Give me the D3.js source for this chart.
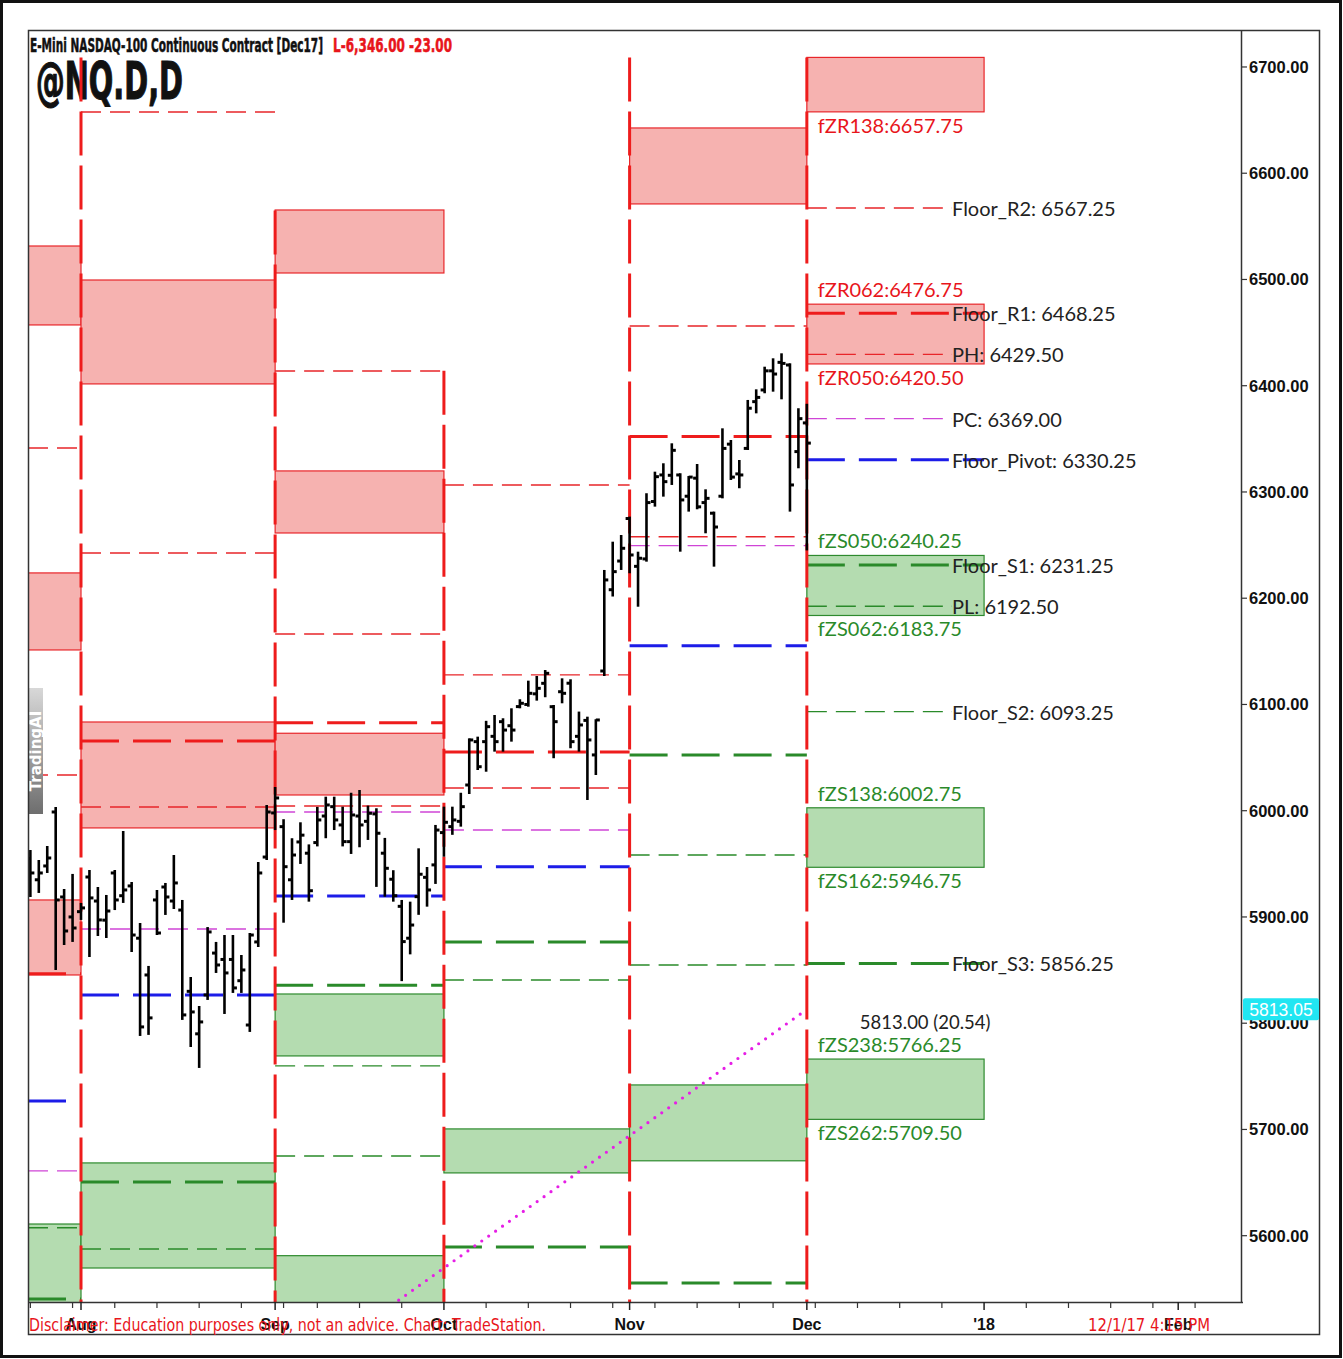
<!DOCTYPE html>
<html><head><meta charset="utf-8">
<script src="https://cdn.jsdelivr.net/npm/d3@7"></script>
<style>html,body{margin:0;padding:0;background:#fff;} svg{display:block;}</style>
</head><body><svg id="c" width="1343" height="1359"></svg>
<script>
// ---------- DATA ----------
// daily OHLC bars: [tradingDayIndex (0 = Aug 1 2017), open, high, low, close]
const bars = [
[-6,5955,5963.0,5918.8,5941.4],[-5,5935,5953.6,5922.6,5941.4],[-4,5948,5966.8,5941.4,5955.5],
[-3,5998.8,6003.5,5850.1,5916.0],[-2,5918.8,5926.3,5873.6,5886.8],[-1,5900,5940.5,5876.5,5889.6],
[0,5905,5913.2,5897.2,5908.5],[1,5937.6,5944.2,5862.3,5917.9],[2,5915,5928.2,5882.1,5897.2],
[3,5897,5920.7,5880.2,5905.6],[4,5941.4,5944.2,5906.5,5916.0],[5,5920,5980.9,5913.2,5925.4],
[6,5929.2,5932.9,5867.0,5883.0],[7,5880,5894.3,5788.0,5796.5],[8,5845.4,5853.9,5789.0,5805.0],
[9,5916,5925.4,5883.0,5884.9],[10,5928.2,5932.0,5901.9,5918.8],[11,5915,5958.3,5907.5,5932.0],
[12,5906.5,5916.0,5803.1,5807.8],[13,5830,5843.5,5777.6,5810.6],[14,5790,5816.2,5757.9,5801.2],
[15,5826.6,5890.5,5821.9,5885.9],[16,5866,5876.5,5847.3,5854.8],[17,5860,5883.0,5808.7,5847.3],
[18,5860,5883.0,5828.5,5833.2],[19,5840,5864.2,5828.5,5850.1],[20,5798.3,5884.9,5791.8,5883.0],
[21,5876.5,5951.7,5871.7,5941.4],[22,5956.4,6005.4,5953.6,5998.8],[23,5997.9,6022.3,5981.8,6012.0],
[24,5985,5992.0,5894.6,5947.3],[25,5935,5974.1,5916.0,5958.3],[26,5970.6,5989.1,5949.9,5977.0],
[27,5960,5968.3,5914.4,5924.7],[28,5970,6003.6,5966.4,5991.3],[29,5995,6013.2,5974.1,6005.4],
[30,6003.8,6013.2,5981.8,5991.3],[31,5986.6,6003.8,5966.4,5970.9],[32,5970.9,6016.9,5959.3,5996.0],
[33,5995,6019.5,5965.6,5986.6],[34,5990,6004.8,5972.5,5997.6],[35,5997,6002.3,5928.3,5978.8],
[36,5960,5974.4,5919.1,5945.8],[37,5935.5,5944.0,5914.4,5920.0],[38,5910,5916.0,5839.6,5876.8],
[39,5880,5914.4,5864.8,5892.4],[40,5919.1,5964.6,5902.0,5940.2],[41,5937.3,5947.0,5909.7,5925.4],
[42,5949.0,5986.6,5931.1,5981.8],[43,5979.4,6003.8,5956.7,5989.1],[44,5985,6003.8,5977.3,5991.3],
[45,5990,6016.9,5985.0,6003.8],[46,6024.2,6068.1,6015.7,6066.6],[47,6065.0,6069.7,6038.3,6041.4],
[48,6065.0,6084.6,6036.7,6079.1],[49,6070,6090.1,6055.6,6065.0],[50,6083.8,6087.0,6055.6,6075.9],
[51,6080,6096.4,6065.0,6075.9],[52,6098,6104.9,6096.4,6101.1],[53,6100,6122.4,6097.9,6110.5],
[54,6110,6126.8,6103.6,6115.2],[55,6119.9,6132.4,6106.8,6129.3],[56,6097.9,6099.5,6049.4,6083.8],
[57,6112,6124.6,6101.1,6110.5],[58,6120,6123.7,6058.8,6065.0],[59,6070,6093.3,6055.6,6080.7],
[60,6085,6088.5,6010.1,6066.6],[61,6052.5,6086.1,6033.6,6085.4],[62,6131.5,6226.6,6126.8,6217.2],
[63,6208,6253.2,6201.6,6225],[64,6235,6259.5,6226.6,6247],[65,6275,6276.8,6223.5,6240.7],
[66,6230,6243.8,6192.0,6237.6],[67,6237,6298.8,6234.4,6290],[68,6291,6319.1,6286.2,6314.4],
[69,6316,6327.0,6295.6,6309.7],[70,6315.7,6345.8,6306.6,6339.2],[71,6316,6317.6,6243.8,6292.5],
[72,6296,6315.0,6281.5,6314],[73,6313,6326.3,6283.7,6286],[74,6290,6302.5,6261.1,6294],
[75,6280,6281.5,6229.7,6267],[76,6296,6359.9,6294.0,6341],[77,6345,6348.9,6311.3,6314],
[78,6317,6330.1,6303.5,6316],[79,6341,6386.6,6339.5,6378.8],[80,6385,6396.6,6374.0,6389],
[81,6396,6417.9,6392.9,6414],[82,6414,6425.8,6394.4,6411],[83,6422,6430.5,6387.2,6421],
[84,6419.5,6421.1,6281.5,6306.6],[85,6338,6378.8,6322.3,6369],[86,6365,6383,6245,6346]
];

// monthly segments [name, first day index, last day index]
const months = [["Jul",-6.28,0],["Aug",0,23],["Sep",23,43],["Oct",43,65],["Nov",65,86],["Dec",86,107]];

// resistance zones (red) [month, low, high]
const resistZones = [
["Jul",6457.2,6531.5],["Jul",6151.3,6223.8],["Jul",5845.4,5916.0],
["Aug",6401.7,6499.5],["Aug",5983.8,6083.5],
["Sep",6506.1,6565.4],["Sep",6261.4,6319.8],["Sep",6014.8,6072.9],
["Nov",6571.1,6642.6],
["Dec",6657.75,6709.0],["Dec",6420.50,6476.75]
];
// support zones (green) [month, low, high]
const supportZones = [
["Jul",5500,5611.0],["Aug",5569.6,5668.5],["Sep",5769.2,5827.5],["Sep",5500,5581.2],
["Oct",5659.1,5700.5],["Nov",5670.5,5741.9],
["Dec",6183.75,6240.25],["Dec",5946.75,6002.75],["Dec",5709.50,5766.25]
];

// floor levels [month, kind, value]
const levels = [
["Jul","rThin",6341.4],["Jul","rThin",6033.6],["Jul","rThick",5846.5],["Jul","pivot",5726.8],["Jul","pc",5661.0],["Jul","gThin",5607.5],["Jul","gThick",5540.4],
["Aug","rThin",6657.6],["Aug","rThin",6242.6],["Aug","rThick",6065.6],["Aug","rThin",6003.5],["Aug","pc",5888.7],["Aug","pivot",5826.6],["Aug","gThick",5650.6],["Aug","gThin",5587.5],
["Sep","rThin",6413.9],["Sep","rThin",6166.3],["Sep","rThick",6082.9],["Sep","rThin",6004.4],["Sep","pc",5998.8],["Sep","pivot",5919.8],["Sep","gThick",5835.8],["Sep","gThin",5759.8],["Sep","gThin",5675.0],
["Oct","rThin",6306.6],["Oct","rThin",6127.8],["Oct","rThick",6055.3],["Oct","rThin",6021.4],["Oct","pc",5981.8],["Oct","pivot",5947.3],["Oct","gThick",5876.5],["Oct","gThin",5840.7],["Oct","gThick",5589.4],
["Nov","rThin",6456.2],["Nov","rThick",6352.1],["Nov","rThin",6257.9],["Nov","pc",6249.5],["Nov","pivot",6155.3],["Nov","gThick",6052.5],["Nov","gThin",5958.3],["Nov","gThin",5854.8],["Nov","gThick",5555.5],
["Dec","rThin",6567.25],["Dec","rThick",6468.25],["Dec","rThin",6429.50],["Dec","pc",6369.00],["Dec","pivot",6330.25],["Dec","gThick",6231.25],["Dec","gThin",6192.50],["Dec","gThin",6093.25],["Dec","gThick",5856.25]
];

// current-month level labels
const floorLabels = [["Floor_R2",6567.25],["Floor_R1",6468.25],["PH",6429.50],["PC",6369.00],["Floor_Pivot",6330.25],["Floor_S1",6231.25],["PL",6192.50],["Floor_S2",6093.25],["Floor_S3",5856.25]];
// zone labels [name, value, side of zone, type]
const zoneLabels = [
["fZR138",6657.75,"below","r"],["fZR062",6476.75,"above","r"],["fZR050",6420.50,"below","r"],
["fZS050",6240.25,"above","s"],["fZS062",6183.75,"below","s"],
["fZS138",6002.75,"above","s"],["fZS162",5946.75,"below","s"],
["fZS238",5766.25,"above","s"],["fZS262",5709.50,"below","s"]
];

// month separators [day index, top value]
const separators = [[0,6709],[23,6565],[43,6414],[65,6709],[86,6709]];

// dotted trend line
const trendPoints = [[36,5530],[86,5813]];
const trendLabel = "5813.00 (20.54)";
const lastPrice = 5813.05;

// axes
const priceTicks = [5600,5700,5800,5900,6000,6100,6200,6300,6400,6500,6600,6700];
const monthTicks = [["Aug",0],["Sep",23],["Oct",43],["Nov",65],["Dec",86],["'18",107],["Feb",130]];
const weekTicks = [-6,-1,4,9,14,19,24,28,33,38,48,53,58,63,68,73,78,82,87,92,97,102,112,117,122,127,132];

// ---------- CHART ----------
const svg = d3.select("#c");
const L = 28, R = 1241, T = 30, B = 1302;
const x = d3.scaleLinear().domain([-6.28, 137.44]).range([L, R]);
const y = d3.scaleLinear().domain([5537.6, 6734.8]).range([B, T]);
const mb = Object.fromEntries(months.map(m => [m[0], [m[1], m[2]]]));

svg.append("rect").attr("width",1343).attr("height",1359).attr("fill","#fff");
svg.append("rect").attr("x",1.5).attr("y",1.5).attr("width",1339).attr("height",1355)
  .attr("fill","none").attr("stroke","#111").attr("stroke-width",3);

const narrow = "'Liberation Sans Narrow','DejaVu Sans Condensed','Arial Narrow',sans-serif";

// title
svg.append("text").attr("x",30).attr("y",52).attr("font-family",narrow).attr("font-weight","bold")
  .attr("font-size",19).attr("fill","#111").attr("stroke","#111").attr("stroke-width",0.5)
  .attr("textLength",293).attr("lengthAdjust","spacingAndGlyphs")
  .text("E-Mini NASDAQ-100 Continuous Contract [Dec17]");
svg.append("text").attr("x",333).attr("y",52).attr("font-family",narrow).attr("font-weight","bold")
  .attr("font-size",19).attr("fill","#e8151b").attr("stroke","#e8151b").attr("stroke-width",0.5)
  .attr("textLength",119).attr("lengthAdjust","spacingAndGlyphs")
  .text("L-6,346.00  -23.00");
svg.append("text").attr("x",36).attr("y",99).attr("font-family",narrow).attr("font-weight","bold")
  .attr("font-size",52).attr("fill","#111").attr("stroke","#111").attr("stroke-width",1.2)
  .attr("textLength",147).attr("lengthAdjust","spacingAndGlyphs")
  .text("@NQ.D,D");

// clip
svg.append("clipPath").attr("id","pc").append("rect").attr("x",L).attr("y",T).attr("width",R-L).attr("height",B-T);
const g = svg.append("g").attr("clip-path","url(#pc)");

// zones
g.selectAll("rect.rz").data(resistZones).join("rect").attr("class","rz")
  .attr("x",d=>x(mb[d[0]][0])).attr("width",d=>x(mb[d[0]][1])-x(mb[d[0]][0]))
  .attr("y",d=>y(d[2])).attr("height",d=>y(d[1])-y(d[2]))
  .attr("fill","#f6b2b0").attr("stroke","#e8262a").attr("stroke-width",1.2);
g.selectAll("rect.sz").data(supportZones).join("rect").attr("class","sz")
  .attr("x",d=>x(mb[d[0]][0])).attr("width",d=>x(mb[d[0]][1])-x(mb[d[0]][0]))
  .attr("y",d=>y(d[2])).attr("height",d=>y(d[1])-y(d[2]))
  .attr("fill","#b4dcb0").attr("stroke","#2e8a2e").attr("stroke-width",1.2);

// levels
const st = {
  rThin:{c:"#e8262a",w:1.4,d:"20,9"}, rThick:{c:"#ee1c1c",w:3,d:"38,14"},
  pc:{c:"#cf45d6",w:1.4,d:"20,9"}, pivot:{c:"#1c1ce8",w:3,d:"38,14"},
  gThick:{c:"#2a8a2a",w:3,d:"38,14"}, gThin:{c:"#2a8a2a",w:1.4,d:"20,9"}
};
const labelDay = 103.2;
g.selectAll("line.lv").data(levels).join("line").attr("class","lv")
  .attr("x1",d=>x(mb[d[0]][0]))
  .attr("x2",d=>x((d[0]==="Dec" && st[d[1]].w<2) ? labelDay : mb[d[0]][1]))
  .attr("y1",d=>y(d[2])).attr("y2",d=>y(d[2]))
  .attr("stroke",d=>st[d[1]].c).attr("stroke-width",d=>st[d[1]].w).attr("stroke-dasharray",d=>st[d[1]].d);

// trend dotted
g.append("path").attr("d",d3.line().x(d=>x(d[0])).y(d=>y(d[1]))(trendPoints))
  .attr("fill","none").attr("stroke","#e61ee6").attr("stroke-width",3.2)
  .attr("stroke-linecap","round").attr("stroke-dasharray","0,8.5");

// separators
g.selectAll("line.sep").data(separators).join("line").attr("class","sep")
  .attr("x1",d=>x(d[0])).attr("x2",d=>x(d[0])).attr("y1",d=>y(d[1])).attr("y2",B)
  .attr("stroke","#ee1c1c").attr("stroke-width",3).attr("stroke-dasharray","44,10");

// bars
const bg = g.append("g").attr("stroke","#000");
bars.forEach(b=>{
  const cx = x(b[0]);
  bg.append("line").attr("x1",cx).attr("x2",cx).attr("y1",y(b[2])).attr("y2",y(b[3])).attr("stroke-width",2.6);
  bg.append("line").attr("x1",cx-4).attr("x2",cx).attr("y1",y(b[1])).attr("y2",y(b[1])).attr("stroke-width",3);
  bg.append("line").attr("x1",cx).attr("x2",cx+4).attr("y1",y(b[4])).attr("y2",y(b[4])).attr("stroke-width",3);
});

// watermark
const grad = svg.append("defs").append("linearGradient").attr("id","wmg").attr("x1",0).attr("x2",0).attr("y1",0).attr("y2",1);
grad.append("stop").attr("offset","0%").attr("stop-color","#d8d8d8");
grad.append("stop").attr("offset","100%").attr("stop-color","#6e6e6e");
const wm = svg.append("g");
wm.append("rect").attr("x",28).attr("y",688).attr("width",15).attr("height",126).attr("fill","url(#wmg)");
wm.append("text").attr("transform","translate(41,751) rotate(-90)").attr("text-anchor","middle")
  .attr("font-family","'DejaVu Sans',sans-serif").attr("font-weight","bold").attr("font-size",15)
  .attr("fill","#fff").text("TradingAI");

// labels for current month
const lf = "Lato,'Open Sans',sans-serif";
svg.selectAll("text.fl").data(floorLabels).join("text").attr("class","fl")
  .attr("x",x(labelDay)).attr("y",d=>y(d[1])).attr("dominant-baseline","central")
  .attr("font-family",lf).attr("font-size",20).attr("fill","#222")
  .text(d=>`${d[0]}: ${d[1].toFixed(2)}`);
svg.selectAll("text.zl").data(zoneLabels).join("text").attr("class","zl")
  .attr("x",x(86)+11).attr("y",d=>y(d[1]) + (d[2]==="above" ? -15 : 13)).attr("dominant-baseline","central")
  .attr("font-family",lf).attr("font-size",20).attr("fill",d=>d[3]==="r"?"#e8151b":"#2a8a2a")
  .text(d=>`${d[0]}:${d[1].toFixed(2)}`);
svg.append("text").attr("x",x(86)+53).attr("y",y(trendPoints[1][1])+13).attr("dominant-baseline","central")
  .attr("font-family",lf).attr("font-size",18.5).attr("fill","#222").text(trendLabel);

// frame & axes
svg.append("rect").attr("x",28.5).attr("y",30.5).attr("width",1291).attr("height",1304)
  .attr("fill","none").attr("stroke","#333").attr("stroke-width",1.5);
svg.append("line").attr("x1",R+0.5).attr("x2",R+0.5).attr("y1",T).attr("y2",B+1).attr("stroke","#333").attr("stroke-width",1.5);
svg.append("line").attr("x1",L).attr("x2",R+2).attr("y1",B+0.5).attr("y2",B+0.5).attr("stroke","#333").attr("stroke-width",1.5);

const af = "'Liberation Sans',Arial,sans-serif";
const ya = svg.append("g");
priceTicks.forEach(v=>{
  ya.append("line").attr("x1",R).attr("x2",R+6).attr("y1",y(v)).attr("y2",y(v)).attr("stroke","#333").attr("stroke-width",1.2);
  ya.append("text").attr("x",R+8).attr("y",y(v)).attr("dominant-baseline","central")
    .attr("font-family",af).attr("font-weight","bold").attr("font-size",16.5).attr("fill","#111").text(v.toFixed(2));
});
ya.append("rect").attr("x",R+2).attr("y",y(lastPrice)-11).attr("width",76).attr("height",22).attr("rx",2).attr("fill","#21e6f2");
ya.append("text").attr("x",R+40).attr("y",y(lastPrice)+1).attr("text-anchor","middle").attr("dominant-baseline","central")
  .attr("font-family",af).attr("font-size",17.5).attr("fill","#fff").text(lastPrice.toFixed(2));

const xa = svg.append("g");
weekTicks.forEach(d=>{
  xa.append("line").attr("x1",x(d)).attr("x2",x(d)).attr("y1",B).attr("y2",B+6).attr("stroke","#333").attr("stroke-width",1.2);
});
// disclaimer below labels
svg.append("text").attr("x",29).attr("y",1331).attr("font-family",narrow).attr("font-size",17)
  .attr("fill","#e8151b").attr("textLength",517).attr("lengthAdjust","spacingAndGlyphs")
  .text("Disclaimer: Education purposes only, not an advice.  Chart: TradeStation.");
svg.append("text").attr("x",1088).attr("y",1331).attr("font-family",narrow).attr("font-size",17)
  .attr("fill","#e8151b").attr("textLength",122).attr("lengthAdjust","spacingAndGlyphs")
  .text("12/1/17 4:15 PM");
monthTicks.forEach(m=>{
  xa.append("line").attr("x1",x(m[1])).attr("x2",x(m[1])).attr("y1",B).attr("y2",B+8).attr("stroke","#222").attr("stroke-width",1.5);
  xa.append("text").attr("x",x(m[1])).attr("y",1324).attr("text-anchor","middle").attr("dominant-baseline","central")
    .attr("font-family",af).attr("font-weight","bold").attr("font-size",16).attr("fill","#111").text(m[0]);
});
</script></body></html>
